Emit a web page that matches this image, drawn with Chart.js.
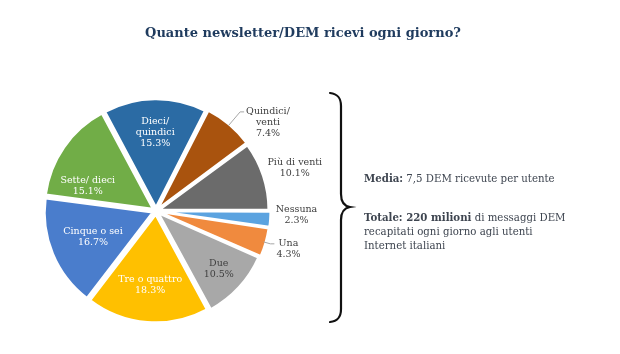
<!DOCTYPE html>
<html>
<head>
<meta charset="utf-8">
<script src="https://cdn.jsdelivr.net/npm/chart.js"></script>
<style>
  html, body { margin: 0; padding: 0; background: #fff; }
  #wrap { width: 620px; height: 354px; position: relative; }
</style>
</head>
<body>
<div id="wrap"><canvas id="chart"></canvas></div>
<script>
const titleText = 'Quante newsletter/DEM ricevi ogni giorno?';
const categories = ['Nessuna', 'Una', 'Due', 'Tre o quattro', 'Cinque o sei', 'Sette/ dieci', 'Dieci/\nquindici', 'Quindici/\nventi', 'Più di venti'];
const shares = [2.3, 4.3, 10.5, 18.3, 16.7, 15.1, 15.3, 7.4, 10.1];
const sliceColors = ['#5ba3e0', '#f08a3e', '#a8a8a8', '#ffc000', '#4a7dcc', '#71ad47', '#2b6ba4', '#a9530e', '#6b6b6b'];
const labelColors = ['#404040', '#404040', '#404040', '#ffffff', '#ffffff', '#ffffff', '#ffffff', '#404040', '#404040'];
const noteLines = [
  [['Media:', true], [' 7,5 DEM ricevute per utente', false]],
  [['Totale: 220 milioni', true], [' di messaggi DEM', false]],
  [['recapitati ogni giorno agli utenti', false]],
  [['Internet italiani', false]]
];

// label placement tweaks (index -> options)
const outsideLabels = { 0: { gap: 3 }, 1: { gap: 8, leader: true }, 7: { gap: 19, leader: true }, 8: { gap: 0 } };
const insideLabels = { 2: { dist: 0.76 }, 3: { dist: 0.66 }, 4: { dist: 0.6 }, 5: { dist: 0.64, turn: -15 } };

const sliceLabels = {
  id: 'sliceLabels',
  afterDatasetsDraw(chart) {
    const ctx = chart.ctx;
    const meta = chart.getDatasetMeta(0);
    const lh = 11;
    ctx.save();
    ctx.font = '9.5px "DejaVu Serif"';
    ctx.textAlign = 'center';
    ctx.textBaseline = 'middle';
    meta.data.forEach(function(arc, i) {
      const p = arc.getProps(['x', 'y', 'startAngle', 'endAngle', 'outerRadius'], true);
      const mid = (p.startAngle + p.endAngle) / 2;
      const off = arc.options.offset / 4; // chart.js moves an arc by offset/4
      const lines = categories[i].split('\n').concat(shares[i].toFixed(1) + '%');
      ctx.fillStyle = labelColors[i];
      const out = outsideLabels[i];
      if (!out) {
        const ins = insideLabels[i] || {};
        const a = mid + (ins.turn || 0) * Math.PI / 180;
        const d = off + p.outerRadius * (ins.dist || 0.7);
        const lx = p.x + Math.cos(a) * d;
        const ly = p.y + Math.sin(a) * d;
        lines.forEach(function(t, k) {
          ctx.fillText(t, lx, ly + (k - (lines.length - 1) / 2) * lh);
        });
        return;
      }
      const r0 = off + p.outerRadius;
      const d = r0 + out.gap;
      const ax = p.x + Math.cos(mid) * d;
      const ay = p.y + Math.sin(mid) * d;
      const w = Math.max.apply(null, lines.map(function(t) { return ctx.measureText(t).width; }));
      const h = lines.length * lh;
      let left, top;
      if (out.leader) {
        ctx.strokeStyle = '#a6a6a6';
        ctx.lineWidth = 1;
        ctx.beginPath();
        ctx.moveTo(p.x + Math.cos(mid) * (r0 + 1), p.y + Math.sin(mid) * (r0 + 1));
        ctx.lineTo(ax, ay);
        ctx.lineTo(ax + 4, ay);
        ctx.stroke();
        left = ax + 6;
        top = ay - lh / 2;
      } else {
        const t = (1 + Math.sin(mid)) / 2;
        left = ax + 6;
        top = ay - h * (1 - t) - 5;
      }
      lines.forEach(function(s, k) {
        ctx.fillText(s, left + w / 2, top + lh / 2 + k * lh);
      });
    });
    ctx.restore();
  }
};

const decor = {
  id: 'decor',
  afterDraw(chart) {
    const ctx = chart.ctx;
    ctx.save();
    ctx.font = 'bold 13px "DejaVu Serif"';
    ctx.fillStyle = '#1f3b5e';
    ctx.textAlign = 'center';
    ctx.textBaseline = 'middle';
    ctx.fillText(titleText, 303, 34);

    // curly brace
    ctx.strokeStyle = '#111';
    ctx.lineWidth = 2.2;
    ctx.lineCap = 'round';
    ctx.beginPath();
    ctx.moveTo(330, 93);
    ctx.bezierCurveTo(338, 94, 341, 98, 341, 106);
    ctx.lineTo(341, 194);
    ctx.bezierCurveTo(341, 202, 344, 206, 350, 207);
    ctx.bezierCurveTo(344, 208, 341, 212, 341, 220);
    ctx.lineTo(341, 309);
    ctx.bezierCurveTo(341, 317, 338, 321, 330, 322);
    ctx.stroke();

    // notes
    ctx.textAlign = 'left';
    ctx.fillStyle = '#3e4550';
    const ys = [179, 218, 232, 246];
    noteLines.forEach(function(line, k) {
      let x = 364;
      line.forEach(function(seg) {
        ctx.font = (seg[1] ? 'bold ' : '') + '10.2px "DejaVu Serif"';
        ctx.fillText(seg[0], x, ys[k]);
        x += ctx.measureText(seg[0]).width;
      });
    });
    ctx.restore();
  }
};

new Chart(document.getElementById('chart'), {
  type: 'pie',
  data: {
    labels: categories,
    datasets: [{
      data: shares,
      backgroundColor: sliceColors,
      borderColor: '#ffffff',
      borderWidth: 2,
      offset: 16
    }]
  },
  options: {
    responsive: true,
    maintainAspectRatio: false,
    animation: false,
    rotation: 90,
    radius: 107,
    layout: { padding: { left: 40, right: 348, top: 95, bottom: 27 } },
    plugins: {
      legend: { display: false },
      tooltip: { enabled: false }
    }
  },
  plugins: [sliceLabels, decor]
});
</script>
</body>
</html>
